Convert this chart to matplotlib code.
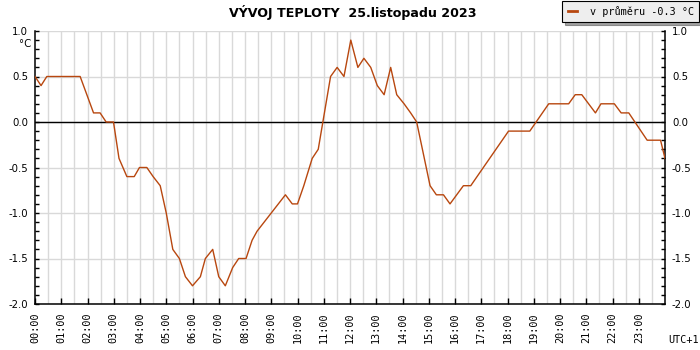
import matplotlib
matplotlib.use("Agg")
import matplotlib.pyplot as plt
from matplotlib.ticker import MultipleLocator, FixedLocator

# --- data (time in hours, temperature in °C) ---
hours = [0.0, 0.23, 0.45, 1.72, 2.23, 2.48, 2.71, 2.99, 3.2, 3.5, 3.78, 3.98,
         4.26, 4.5, 4.77, 5.0, 5.25, 5.5, 5.73, 6.0, 6.3, 6.49, 6.77, 7.0,
         7.25, 7.53, 7.76, 8.04, 8.27, 8.46, 9.54, 9.8, 10.0, 10.24, 10.56,
         10.79, 11.26, 11.51, 11.77, 12.03, 12.3, 12.53, 12.79, 13.04, 13.3,
         13.55, 13.78, 14.06, 14.31, 14.54, 15.05, 15.29, 15.56, 15.81, 16.32,
         16.6, 18.04, 18.85, 19.57, 20.33, 20.58, 20.83, 21.35, 21.56, 22.07,
         22.33, 22.62, 23.32, 23.83, 24.0]
temps = [0.5, 0.4, 0.5, 0.5, 0.1, 0.1, 0.0, 0.0, -0.4, -0.6, -0.6, -0.5,
         -0.5, -0.6, -0.7, -1.0, -1.4, -1.5, -1.7, -1.8, -1.7, -1.5, -1.4, -1.7,
         -1.8, -1.6, -1.5, -1.5, -1.3, -1.2, -0.8, -0.9, -0.9, -0.7, -0.4,
         -0.3, 0.5, 0.6, 0.5, 0.9, 0.6, 0.7, 0.6, 0.4, 0.3,
         0.6, 0.3, 0.2, 0.1, 0.0, -0.7, -0.8, -0.8, -0.9, -0.7,
         -0.7, -0.1, -0.1, 0.2, 0.2, 0.3, 0.3, 0.1, 0.2, 0.2,
         0.1, 0.1, -0.2, -0.2, -0.4]
hour_labels = ["%02d:00" % h for h in range(24)]
y_labels = ["1.0", "0.5", "0.0", "-0.5", "-1.0", "-1.5", "-2.0"]
y_values = [1.0, 0.5, 0.0, -0.5, -1.0, -1.5, -2.0]
title = "VÝVOJ TEPLOTY  25.listopadu 2023"
legend_label = "v průměru -0.3 °C"

LINE = "#b8470f"
GRID = "#d9d9d9"
MONO = "DejaVu Sans Mono"
FS = 7.3

fig = plt.figure(figsize=(7, 3.5), dpi=100)
ax = fig.add_axes([35/700, 1-304/350, 630/700, 273/350])

ax.set_xlim(0, 24)
ax.set_ylim(-2.0, 1.0)

# grid
for x in [i*0.5 for i in range(1, 48)]:
    ax.axvline(x, color=GRID, lw=1, zorder=0)
for y in y_values:
    ax.axhline(y, color=GRID, lw=1, zorder=0)
ax.axhline(0.0, color="black", lw=1, zorder=1)

ax.plot(hours, temps, color=LINE, lw=1, zorder=3, label=legend_label)

# spines
ax.spines["top"].set_visible(False)
for s in ["left", "right", "bottom"]:
    ax.spines[s].set_linewidth(1.1)
    ax.spines[s].set_color("black")

# x ticks
ax.xaxis.set_major_locator(FixedLocator(list(range(24))))
ax.set_xticklabels(hour_labels, rotation=90, fontfamily=MONO, fontsize=FS)
ax.tick_params(axis="x", direction="in", length=4, width=1, pad=6)

# y ticks
ax.yaxis.set_major_locator(FixedLocator(y_values))
ax.yaxis.set_minor_locator(MultipleLocator(0.1))
ax.set_yticklabels(y_labels, fontfamily="DejaVu Sans", fontsize=FS)
ax.tick_params(axis="y", which="both", direction="in", length=3, width=1,
               left=True, right=True, labelleft=True, labelright=True, pad=4)
ax.tick_params(axis="y", which="major", pad=5)

fig.text(31/700, 1-44/350, "°C", ha="right", va="center",
         fontfamily="DejaVu Sans", fontsize=FS)
fig.text(699/700, 1-340/350, "UTC+1", ha="right", va="center",
         fontfamily=MONO, fontsize=FS)
fig.text(353/700, 1-12/350, title, ha="center", va="center",
         fontfamily="DejaVu Sans", fontweight="bold", fontsize=9.1)

leg = fig.legend(loc="upper right", bbox_to_anchor=(699/700, 1-1/350),
                 frameon=True, fancybox=False, shadow=True, framealpha=1,
                 facecolor="#eeeeee", edgecolor="black",
                 prop={"family": MONO, "size": FS},
                 handlelength=0.9, handletextpad=1.3, borderpad=0.5,
                 borderaxespad=0)
for h in leg.legend_handles:
    h.set_linewidth(2)
leg.get_frame().set_linewidth(0.8)

fig.savefig("out.png", dpi=100)
